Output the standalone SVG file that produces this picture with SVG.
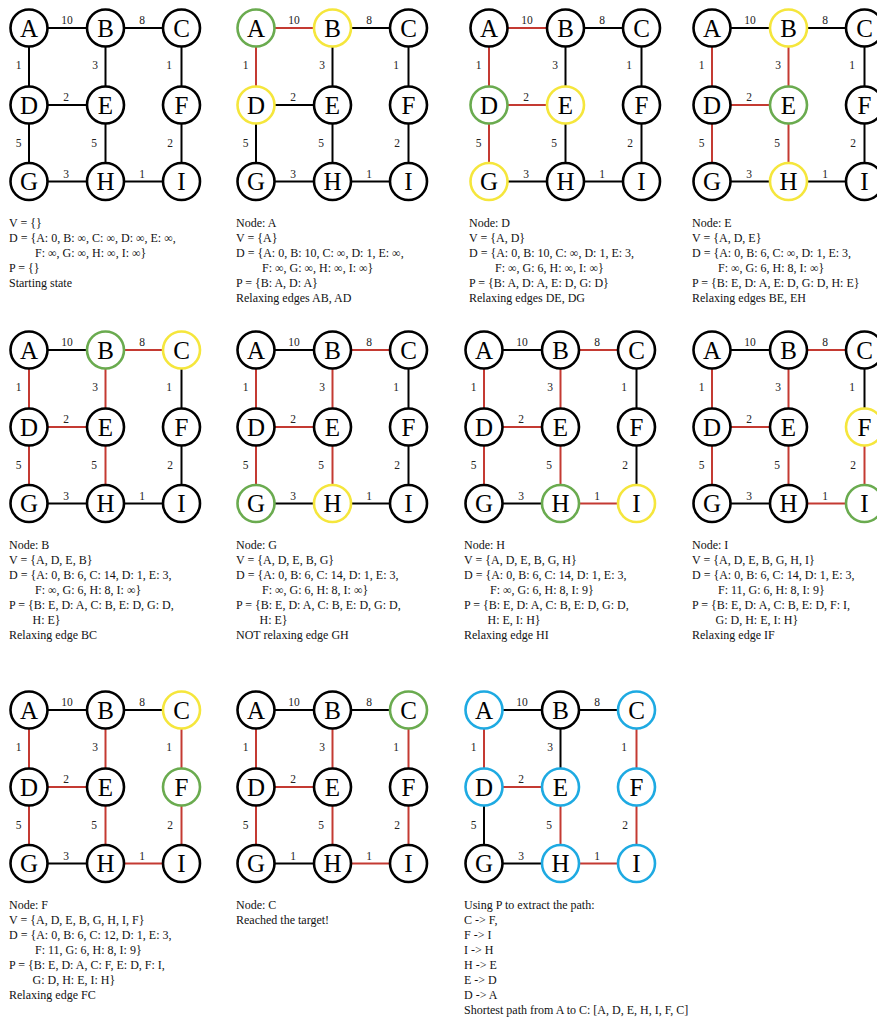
<svg xmlns="http://www.w3.org/2000/svg" xmlns:xlink="http://www.w3.org/1999/xlink" width="877" height="1018" viewBox="0 0 877 1018">
<style>
.bg{fill:#fff}
line{stroke:#000;stroke-width:2}
line.r{stroke:#c43a32}
.w{font-family:"Liberation Serif","Times New Roman",serif;font-size:11.5px;fill:#222;text-anchor:middle}
.node circle{fill:#fff;stroke:#000;stroke-width:2.6}
.node text{font-family:"Liberation Serif","Times New Roman",serif;font-size:25px;fill:#000;text-anchor:middle}
.node.g circle{stroke:#6aab4f}
.node.y circle{stroke:#f5e63c}
.node.b circle{stroke:#1eaae2}
.t{font-family:"Liberation Serif","Times New Roman",serif;font-size:12px;fill:#111}
</style>
<rect class="bg" x="0" y="0" width="877" height="1018"/>

<!-- Panel 1 -->
<g id="panel1" transform="translate(0,0)">
<g id="p1-edges">
<line x1="29" y1="28" x2="105.5" y2="28"/><line x1="105.5" y1="28" x2="181.5" y2="28"/>
<line x1="29" y1="28" x2="29" y2="105"/><line x1="105.5" y1="28" x2="105.5" y2="105"/><line x1="181.5" y1="28" x2="181.5" y2="105"/>
<line x1="29" y1="105" x2="105.5" y2="105"/>
<line x1="29" y1="105" x2="29" y2="181.5"/><line x1="105.5" y1="105" x2="105.5" y2="181.5"/><line x1="181.5" y1="105" x2="181.5" y2="181.5"/>
<line x1="29" y1="181.5" x2="105.5" y2="181.5"/><line x1="105.5" y1="181.5" x2="181.5" y2="181.5"/>
<text class="w" x="67" y="24">10</text><text class="w" x="142" y="24">8</text><text class="w" x="18.5" y="69">1</text><text class="w" x="95" y="69">3</text><text class="w" x="169" y="69">1</text><text class="w" x="66" y="101">2</text><text class="w" x="18.5" y="147">5</text><text class="w" x="94" y="147">5</text><text class="w" x="170" y="147">2</text><text class="w" x="66" y="177.5">3</text><text class="w" x="142" y="177.5">1</text>
</g>
<g id="p1-A" class="node"><circle cx="29" cy="28" r="18.5"/><text x="29" y="36.5">A</text></g>
<g id="p1-B" class="node"><circle cx="105.5" cy="28" r="18.5"/><text x="105.5" y="36.5">B</text></g>
<g id="p1-C" class="node"><circle cx="181.5" cy="28" r="18.5"/><text x="181.5" y="36.5">C</text></g>
<g id="p1-D" class="node"><circle cx="29" cy="105" r="18.5"/><text x="29" y="113.5">D</text></g>
<g id="p1-E" class="node"><circle cx="105.5" cy="105" r="18.5"/><text x="105.5" y="113.5">E</text></g>
<g id="p1-F" class="node"><circle cx="181.5" cy="105" r="18.5"/><text x="181.5" y="113.5">F</text></g>
<g id="p1-G" class="node"><circle cx="29" cy="181.5" r="18.5"/><text x="29" y="190">G</text></g>
<g id="p1-H" class="node"><circle cx="105.5" cy="181.5" r="18.5"/><text x="105.5" y="190">H</text></g>
<g id="p1-I" class="node"><circle cx="181.5" cy="181.5" r="18.5"/><text x="181.5" y="190">I</text></g>
<text class="t"><tspan x="9" y="227">V = {}</tspan><tspan x="9" y="242">D = {A: 0, B: ∞, C: ∞, D: ∞, E: ∞,</tspan><tspan x="35" y="257">F: ∞, G: ∞, H: ∞, I: ∞}</tspan><tspan x="9" y="272">P = {}</tspan><tspan x="9" y="287">Starting state</tspan></text>
</g>

<!-- Panel 2 -->
<g id="panel2" transform="translate(227,0)">
<g id="p2-edges">
<line class="r" x1="29" y1="28" x2="105.5" y2="28"/><line x1="105.5" y1="28" x2="181.5" y2="28"/>
<line class="r" x1="29" y1="28" x2="29" y2="105"/><line x1="105.5" y1="28" x2="105.5" y2="105"/><line x1="181.5" y1="28" x2="181.5" y2="105"/>
<line x1="29" y1="105" x2="105.5" y2="105"/>
<line x1="29" y1="105" x2="29" y2="181.5"/><line x1="105.5" y1="105" x2="105.5" y2="181.5"/><line x1="181.5" y1="105" x2="181.5" y2="181.5"/>
<line x1="29" y1="181.5" x2="105.5" y2="181.5"/><line x1="105.5" y1="181.5" x2="181.5" y2="181.5"/>
<text class="w" x="67" y="24">10</text><text class="w" x="142" y="24">8</text><text class="w" x="18.5" y="69">1</text><text class="w" x="95" y="69">3</text><text class="w" x="169" y="69">1</text><text class="w" x="66" y="101">2</text><text class="w" x="18.5" y="147">5</text><text class="w" x="94" y="147">5</text><text class="w" x="170" y="147">2</text><text class="w" x="66" y="177.5">3</text><text class="w" x="142" y="177.5">1</text>
</g>
<g id="p2-A" class="node g"><circle cx="29" cy="28" r="18.5"/><text x="29" y="36.5">A</text></g>
<g id="p2-B" class="node y"><circle cx="105.5" cy="28" r="18.5"/><text x="105.5" y="36.5">B</text></g>
<g id="p2-C" class="node"><circle cx="181.5" cy="28" r="18.5"/><text x="181.5" y="36.5">C</text></g>
<g id="p2-D" class="node y"><circle cx="29" cy="105" r="18.5"/><text x="29" y="113.5">D</text></g>
<g id="p2-E" class="node"><circle cx="105.5" cy="105" r="18.5"/><text x="105.5" y="113.5">E</text></g>
<g id="p2-F" class="node"><circle cx="181.5" cy="105" r="18.5"/><text x="181.5" y="113.5">F</text></g>
<g id="p2-G" class="node"><circle cx="29" cy="181.5" r="18.5"/><text x="29" y="190">G</text></g>
<g id="p2-H" class="node"><circle cx="105.5" cy="181.5" r="18.5"/><text x="105.5" y="190">H</text></g>
<g id="p2-I" class="node"><circle cx="181.5" cy="181.5" r="18.5"/><text x="181.5" y="190">I</text></g>
<text class="t"><tspan x="9" y="227">Node: A</tspan><tspan x="9" y="242">V = {A}</tspan><tspan x="9" y="257">D = {A: 0, B: 10, C: ∞, D: 1, E: ∞,</tspan><tspan x="35" y="272">F: ∞, G: ∞, H: ∞, I: ∞}</tspan><tspan x="9" y="287">P = {B: A, D: A}</tspan><tspan x="9" y="302">Relaxing edges AB, AD</tspan></text>
</g>

<!-- Panel 3 -->
<g id="panel3" transform="translate(460,0)">
<g id="p3-edges">
<line class="r" x1="29" y1="28" x2="105.5" y2="28"/><line x1="105.5" y1="28" x2="181.5" y2="28"/>
<line class="r" x1="29" y1="28" x2="29" y2="105"/><line x1="105.5" y1="28" x2="105.5" y2="105"/><line x1="181.5" y1="28" x2="181.5" y2="105"/>
<line class="r" x1="29" y1="105" x2="105.5" y2="105"/>
<line class="r" x1="29" y1="105" x2="29" y2="181.5"/><line x1="105.5" y1="105" x2="105.5" y2="181.5"/><line x1="181.5" y1="105" x2="181.5" y2="181.5"/>
<line x1="29" y1="181.5" x2="105.5" y2="181.5"/><line x1="105.5" y1="181.5" x2="181.5" y2="181.5"/>
<text class="w" x="67" y="24">10</text><text class="w" x="142" y="24">8</text><text class="w" x="18.5" y="69">1</text><text class="w" x="95" y="69">3</text><text class="w" x="169" y="69">1</text><text class="w" x="66" y="101">2</text><text class="w" x="18.5" y="147">5</text><text class="w" x="94" y="147">5</text><text class="w" x="170" y="147">2</text><text class="w" x="66" y="177.5">3</text><text class="w" x="142" y="177.5">1</text>
</g>
<g id="p3-A" class="node"><circle cx="29" cy="28" r="18.5"/><text x="29" y="36.5">A</text></g>
<g id="p3-B" class="node"><circle cx="105.5" cy="28" r="18.5"/><text x="105.5" y="36.5">B</text></g>
<g id="p3-C" class="node"><circle cx="181.5" cy="28" r="18.5"/><text x="181.5" y="36.5">C</text></g>
<g id="p3-D" class="node g"><circle cx="29" cy="105" r="18.5"/><text x="29" y="113.5">D</text></g>
<g id="p3-E" class="node y"><circle cx="105.5" cy="105" r="18.5"/><text x="105.5" y="113.5">E</text></g>
<g id="p3-F" class="node"><circle cx="181.5" cy="105" r="18.5"/><text x="181.5" y="113.5">F</text></g>
<g id="p3-G" class="node y"><circle cx="29" cy="181.5" r="18.5"/><text x="29" y="190">G</text></g>
<g id="p3-H" class="node"><circle cx="105.5" cy="181.5" r="18.5"/><text x="105.5" y="190">H</text></g>
<g id="p3-I" class="node"><circle cx="181.5" cy="181.5" r="18.5"/><text x="181.5" y="190">I</text></g>
<text class="t"><tspan x="9" y="227">Node: D</tspan><tspan x="9" y="242">V = {A, D}</tspan><tspan x="9" y="257">D = {A: 0, B: 10, C: ∞, D: 1, E: 3,</tspan><tspan x="35" y="272">F: ∞, G: 6, H: ∞, I: ∞}</tspan><tspan x="9" y="287">P = {B: A, D: A, E: D, G: D}</tspan><tspan x="9" y="302">Relaxing edges DE, DG</tspan></text>
</g>

<!-- Panel 4 -->
<g id="panel4" transform="translate(683,0)">
<g id="p4-edges">
<line x1="29" y1="28" x2="105.5" y2="28"/><line x1="105.5" y1="28" x2="181.5" y2="28"/>
<line class="r" x1="29" y1="28" x2="29" y2="105"/><line class="r" x1="105.5" y1="28" x2="105.5" y2="105"/><line x1="181.5" y1="28" x2="181.5" y2="105"/>
<line class="r" x1="29" y1="105" x2="105.5" y2="105"/>
<line class="r" x1="29" y1="105" x2="29" y2="181.5"/><line class="r" x1="105.5" y1="105" x2="105.5" y2="181.5"/><line x1="181.5" y1="105" x2="181.5" y2="181.5"/>
<line x1="29" y1="181.5" x2="105.5" y2="181.5"/><line x1="105.5" y1="181.5" x2="181.5" y2="181.5"/>
<text class="w" x="67" y="24">10</text><text class="w" x="142" y="24">8</text><text class="w" x="18.5" y="69">1</text><text class="w" x="95" y="69">3</text><text class="w" x="169" y="69">1</text><text class="w" x="66" y="101">2</text><text class="w" x="18.5" y="147">5</text><text class="w" x="94" y="147">5</text><text class="w" x="170" y="147">2</text><text class="w" x="66" y="177.5">3</text><text class="w" x="142" y="177.5">1</text>
</g>
<g id="p4-A" class="node"><circle cx="29" cy="28" r="18.5"/><text x="29" y="36.5">A</text></g>
<g id="p4-B" class="node y"><circle cx="105.5" cy="28" r="18.5"/><text x="105.5" y="36.5">B</text></g>
<g id="p4-C" class="node"><circle cx="181.5" cy="28" r="18.5"/><text x="181.5" y="36.5">C</text></g>
<g id="p4-D" class="node"><circle cx="29" cy="105" r="18.5"/><text x="29" y="113.5">D</text></g>
<g id="p4-E" class="node g"><circle cx="105.5" cy="105" r="18.5"/><text x="105.5" y="113.5">E</text></g>
<g id="p4-F" class="node"><circle cx="181.5" cy="105" r="18.5"/><text x="181.5" y="113.5">F</text></g>
<g id="p4-G" class="node"><circle cx="29" cy="181.5" r="18.5"/><text x="29" y="190">G</text></g>
<g id="p4-H" class="node y"><circle cx="105.5" cy="181.5" r="18.5"/><text x="105.5" y="190">H</text></g>
<g id="p4-I" class="node"><circle cx="181.5" cy="181.5" r="18.5"/><text x="181.5" y="190">I</text></g>
<text class="t"><tspan x="9" y="227">Node: E</tspan><tspan x="9" y="242">V = {A, D, E}</tspan><tspan x="9" y="257">D = {A: 0, B: 6, C: ∞, D: 1, E: 3,</tspan><tspan x="35" y="272">F: ∞, G: 6, H: 8, I: ∞}</tspan><tspan x="9" y="287">P = {B: E, D: A, E: D, G: D, H: E}</tspan><tspan x="9" y="302">Relaxing edges BE, EH</tspan></text>
</g>

<!-- Panel 5 -->
<g id="panel5" transform="translate(0,322)">
<g id="p5-edges">
<line x1="29" y1="28" x2="105.5" y2="28"/><line class="r" x1="105.5" y1="28" x2="181.5" y2="28"/>
<line class="r" x1="29" y1="28" x2="29" y2="105"/><line class="r" x1="105.5" y1="28" x2="105.5" y2="105"/><line x1="181.5" y1="28" x2="181.5" y2="105"/>
<line class="r" x1="29" y1="105" x2="105.5" y2="105"/>
<line class="r" x1="29" y1="105" x2="29" y2="181.5"/><line class="r" x1="105.5" y1="105" x2="105.5" y2="181.5"/><line x1="181.5" y1="105" x2="181.5" y2="181.5"/>
<line x1="29" y1="181.5" x2="105.5" y2="181.5"/><line x1="105.5" y1="181.5" x2="181.5" y2="181.5"/>
<text class="w" x="67" y="24">10</text><text class="w" x="142" y="24">8</text><text class="w" x="18.5" y="69">1</text><text class="w" x="95" y="69">3</text><text class="w" x="169" y="69">1</text><text class="w" x="66" y="101">2</text><text class="w" x="18.5" y="147">5</text><text class="w" x="94" y="147">5</text><text class="w" x="170" y="147">2</text><text class="w" x="66" y="177.5">3</text><text class="w" x="142" y="177.5">1</text>
</g>
<g id="p5-A" class="node"><circle cx="29" cy="28" r="18.5"/><text x="29" y="36.5">A</text></g>
<g id="p5-B" class="node g"><circle cx="105.5" cy="28" r="18.5"/><text x="105.5" y="36.5">B</text></g>
<g id="p5-C" class="node y"><circle cx="181.5" cy="28" r="18.5"/><text x="181.5" y="36.5">C</text></g>
<g id="p5-D" class="node"><circle cx="29" cy="105" r="18.5"/><text x="29" y="113.5">D</text></g>
<g id="p5-E" class="node"><circle cx="105.5" cy="105" r="18.5"/><text x="105.5" y="113.5">E</text></g>
<g id="p5-F" class="node"><circle cx="181.5" cy="105" r="18.5"/><text x="181.5" y="113.5">F</text></g>
<g id="p5-G" class="node"><circle cx="29" cy="181.5" r="18.5"/><text x="29" y="190">G</text></g>
<g id="p5-H" class="node"><circle cx="105.5" cy="181.5" r="18.5"/><text x="105.5" y="190">H</text></g>
<g id="p5-I" class="node"><circle cx="181.5" cy="181.5" r="18.5"/><text x="181.5" y="190">I</text></g>
<text class="t"><tspan x="9" y="227">Node: B</tspan><tspan x="9" y="242">V = {A, D, E, B}</tspan><tspan x="9" y="257">D = {A: 0, B: 6, C: 14, D: 1, E: 3,</tspan><tspan x="35" y="272">F: ∞, G: 6, H: 8, I: ∞}</tspan><tspan x="9" y="287">P = {B: E, D: A, C: B, E: D, G: D,</tspan><tspan x="32.5" y="302">H: E}</tspan><tspan x="9" y="317">Relaxing edge BC</tspan></text>
</g>

<!-- Panel 6 -->
<g id="panel6" transform="translate(227,322)">
<g id="p6-edges">
<line x1="29" y1="28" x2="105.5" y2="28"/><line class="r" x1="105.5" y1="28" x2="181.5" y2="28"/>
<line class="r" x1="29" y1="28" x2="29" y2="105"/><line class="r" x1="105.5" y1="28" x2="105.5" y2="105"/><line x1="181.5" y1="28" x2="181.5" y2="105"/>
<line class="r" x1="29" y1="105" x2="105.5" y2="105"/>
<line class="r" x1="29" y1="105" x2="29" y2="181.5"/><line class="r" x1="105.5" y1="105" x2="105.5" y2="181.5"/><line x1="181.5" y1="105" x2="181.5" y2="181.5"/>
<line x1="29" y1="181.5" x2="105.5" y2="181.5"/><line x1="105.5" y1="181.5" x2="181.5" y2="181.5"/>
<text class="w" x="67" y="24">10</text><text class="w" x="142" y="24">8</text><text class="w" x="18.5" y="69">1</text><text class="w" x="95" y="69">3</text><text class="w" x="169" y="69">1</text><text class="w" x="66" y="101">2</text><text class="w" x="18.5" y="147">5</text><text class="w" x="94" y="147">5</text><text class="w" x="170" y="147">2</text><text class="w" x="66" y="177.5">3</text><text class="w" x="142" y="177.5">1</text>
</g>
<g id="p6-A" class="node"><circle cx="29" cy="28" r="18.5"/><text x="29" y="36.5">A</text></g>
<g id="p6-B" class="node"><circle cx="105.5" cy="28" r="18.5"/><text x="105.5" y="36.5">B</text></g>
<g id="p6-C" class="node"><circle cx="181.5" cy="28" r="18.5"/><text x="181.5" y="36.5">C</text></g>
<g id="p6-D" class="node"><circle cx="29" cy="105" r="18.5"/><text x="29" y="113.5">D</text></g>
<g id="p6-E" class="node"><circle cx="105.5" cy="105" r="18.5"/><text x="105.5" y="113.5">E</text></g>
<g id="p6-F" class="node"><circle cx="181.5" cy="105" r="18.5"/><text x="181.5" y="113.5">F</text></g>
<g id="p6-G" class="node g"><circle cx="29" cy="181.5" r="18.5"/><text x="29" y="190">G</text></g>
<g id="p6-H" class="node y"><circle cx="105.5" cy="181.5" r="18.5"/><text x="105.5" y="190">H</text></g>
<g id="p6-I" class="node"><circle cx="181.5" cy="181.5" r="18.5"/><text x="181.5" y="190">I</text></g>
<text class="t"><tspan x="9" y="227">Node: G</tspan><tspan x="9" y="242">V = {A, D, E, B, G}</tspan><tspan x="9" y="257">D = {A: 0, B: 6, C: 14, D: 1, E: 3,</tspan><tspan x="35" y="272">F: ∞, G: 6, H: 8, I: ∞}</tspan><tspan x="9" y="287">P = {B: E, D: A, C: B, E: D, G: D,</tspan><tspan x="32.5" y="302">H: E}</tspan><tspan x="9" y="317">NOT relaxing edge GH</tspan></text>
</g>

<!-- Panel 7 -->
<g id="panel7" transform="translate(455,322)">
<g id="p7-edges">
<line x1="29" y1="28" x2="105.5" y2="28"/><line class="r" x1="105.5" y1="28" x2="181.5" y2="28"/>
<line class="r" x1="29" y1="28" x2="29" y2="105"/><line class="r" x1="105.5" y1="28" x2="105.5" y2="105"/><line x1="181.5" y1="28" x2="181.5" y2="105"/>
<line class="r" x1="29" y1="105" x2="105.5" y2="105"/>
<line class="r" x1="29" y1="105" x2="29" y2="181.5"/><line class="r" x1="105.5" y1="105" x2="105.5" y2="181.5"/><line x1="181.5" y1="105" x2="181.5" y2="181.5"/>
<line x1="29" y1="181.5" x2="105.5" y2="181.5"/><line class="r" x1="105.5" y1="181.5" x2="181.5" y2="181.5"/>
<text class="w" x="67" y="24">10</text><text class="w" x="142" y="24">8</text><text class="w" x="18.5" y="69">1</text><text class="w" x="95" y="69">3</text><text class="w" x="169" y="69">1</text><text class="w" x="66" y="101">2</text><text class="w" x="18.5" y="147">5</text><text class="w" x="94" y="147">5</text><text class="w" x="170" y="147">2</text><text class="w" x="66" y="177.5">3</text><text class="w" x="142" y="177.5">1</text>
</g>
<g id="p7-A" class="node"><circle cx="29" cy="28" r="18.5"/><text x="29" y="36.5">A</text></g>
<g id="p7-B" class="node"><circle cx="105.5" cy="28" r="18.5"/><text x="105.5" y="36.5">B</text></g>
<g id="p7-C" class="node"><circle cx="181.5" cy="28" r="18.5"/><text x="181.5" y="36.5">C</text></g>
<g id="p7-D" class="node"><circle cx="29" cy="105" r="18.5"/><text x="29" y="113.5">D</text></g>
<g id="p7-E" class="node"><circle cx="105.5" cy="105" r="18.5"/><text x="105.5" y="113.5">E</text></g>
<g id="p7-F" class="node"><circle cx="181.5" cy="105" r="18.5"/><text x="181.5" y="113.5">F</text></g>
<g id="p7-G" class="node"><circle cx="29" cy="181.5" r="18.5"/><text x="29" y="190">G</text></g>
<g id="p7-H" class="node g"><circle cx="105.5" cy="181.5" r="18.5"/><text x="105.5" y="190">H</text></g>
<g id="p7-I" class="node y"><circle cx="181.5" cy="181.5" r="18.5"/><text x="181.5" y="190">I</text></g>
<text class="t"><tspan x="9" y="227">Node: H</tspan><tspan x="9" y="242">V = {A, D, E, B, G, H}</tspan><tspan x="9" y="257">D = {A: 0, B: 6, C: 14, D: 1, E: 3,</tspan><tspan x="35" y="272">F: ∞, G: 6, H: 8, I: 9}</tspan><tspan x="9" y="287">P = {B: E, D: A, C: B, E: D, G: D,</tspan><tspan x="32.5" y="302">H: E, I: H}</tspan><tspan x="9" y="317">Relaxing edge HI</tspan></text>
</g>

<!-- Panel 8 -->
<g id="panel8" transform="translate(683,322)">
<g id="p8-edges">
<line x1="29" y1="28" x2="105.5" y2="28"/><line class="r" x1="105.5" y1="28" x2="181.5" y2="28"/>
<line class="r" x1="29" y1="28" x2="29" y2="105"/><line class="r" x1="105.5" y1="28" x2="105.5" y2="105"/><line x1="181.5" y1="28" x2="181.5" y2="105"/>
<line class="r" x1="29" y1="105" x2="105.5" y2="105"/>
<line class="r" x1="29" y1="105" x2="29" y2="181.5"/><line class="r" x1="105.5" y1="105" x2="105.5" y2="181.5"/><line class="r" x1="181.5" y1="105" x2="181.5" y2="181.5"/>
<line x1="29" y1="181.5" x2="105.5" y2="181.5"/><line class="r" x1="105.5" y1="181.5" x2="181.5" y2="181.5"/>
<text class="w" x="67" y="24">10</text><text class="w" x="142" y="24">8</text><text class="w" x="18.5" y="69">1</text><text class="w" x="95" y="69">3</text><text class="w" x="169" y="69">1</text><text class="w" x="66" y="101">2</text><text class="w" x="18.5" y="147">5</text><text class="w" x="94" y="147">5</text><text class="w" x="170" y="147">2</text><text class="w" x="66" y="177.5">3</text><text class="w" x="142" y="177.5">1</text>
</g>
<g id="p8-A" class="node"><circle cx="29" cy="28" r="18.5"/><text x="29" y="36.5">A</text></g>
<g id="p8-B" class="node"><circle cx="105.5" cy="28" r="18.5"/><text x="105.5" y="36.5">B</text></g>
<g id="p8-C" class="node"><circle cx="181.5" cy="28" r="18.5"/><text x="181.5" y="36.5">C</text></g>
<g id="p8-D" class="node"><circle cx="29" cy="105" r="18.5"/><text x="29" y="113.5">D</text></g>
<g id="p8-E" class="node"><circle cx="105.5" cy="105" r="18.5"/><text x="105.5" y="113.5">E</text></g>
<g id="p8-F" class="node y"><circle cx="181.5" cy="105" r="18.5"/><text x="181.5" y="113.5">F</text></g>
<g id="p8-G" class="node"><circle cx="29" cy="181.5" r="18.5"/><text x="29" y="190">G</text></g>
<g id="p8-H" class="node"><circle cx="105.5" cy="181.5" r="18.5"/><text x="105.5" y="190">H</text></g>
<g id="p8-I" class="node g"><circle cx="181.5" cy="181.5" r="18.5"/><text x="181.5" y="190">I</text></g>
<text class="t"><tspan x="9" y="227">Node: I</tspan><tspan x="9" y="242">V = {A, D, E, B, G, H, I}</tspan><tspan x="9" y="257">D = {A: 0, B: 6, C: 14, D: 1, E: 3,</tspan><tspan x="35" y="272">F: 11, G: 6, H: 8, I: 9}</tspan><tspan x="9" y="287">P = {B: E, D: A, C: B, E: D, F: I,</tspan><tspan x="32.5" y="302">G: D, H: E, I: H}</tspan><tspan x="9" y="317">Relaxing edge IF</tspan></text>
</g>

<!-- Panel 9 -->
<g id="panel9" transform="translate(0,682)">
<g id="p9-edges">
<line x1="29" y1="28" x2="105.5" y2="28"/><line x1="105.5" y1="28" x2="181.5" y2="28"/>
<line class="r" x1="29" y1="28" x2="29" y2="105"/><line class="r" x1="105.5" y1="28" x2="105.5" y2="105"/><line class="r" x1="181.5" y1="28" x2="181.5" y2="105"/>
<line class="r" x1="29" y1="105" x2="105.5" y2="105"/>
<line class="r" x1="29" y1="105" x2="29" y2="181.5"/><line class="r" x1="105.5" y1="105" x2="105.5" y2="181.5"/><line class="r" x1="181.5" y1="105" x2="181.5" y2="181.5"/>
<line x1="29" y1="181.5" x2="105.5" y2="181.5"/><line class="r" x1="105.5" y1="181.5" x2="181.5" y2="181.5"/>
<text class="w" x="67" y="24">10</text><text class="w" x="142" y="24">8</text><text class="w" x="18.5" y="69">1</text><text class="w" x="95" y="69">3</text><text class="w" x="169" y="69">1</text><text class="w" x="66" y="101">2</text><text class="w" x="18.5" y="147">5</text><text class="w" x="94" y="147">5</text><text class="w" x="170" y="147">2</text><text class="w" x="66" y="177.5">3</text><text class="w" x="142" y="177.5">1</text>
</g>
<g id="p9-A" class="node"><circle cx="29" cy="28" r="18.5"/><text x="29" y="36.5">A</text></g>
<g id="p9-B" class="node"><circle cx="105.5" cy="28" r="18.5"/><text x="105.5" y="36.5">B</text></g>
<g id="p9-C" class="node y"><circle cx="181.5" cy="28" r="18.5"/><text x="181.5" y="36.5">C</text></g>
<g id="p9-D" class="node"><circle cx="29" cy="105" r="18.5"/><text x="29" y="113.5">D</text></g>
<g id="p9-E" class="node"><circle cx="105.5" cy="105" r="18.5"/><text x="105.5" y="113.5">E</text></g>
<g id="p9-F" class="node g"><circle cx="181.5" cy="105" r="18.5"/><text x="181.5" y="113.5">F</text></g>
<g id="p9-G" class="node"><circle cx="29" cy="181.5" r="18.5"/><text x="29" y="190">G</text></g>
<g id="p9-H" class="node"><circle cx="105.5" cy="181.5" r="18.5"/><text x="105.5" y="190">H</text></g>
<g id="p9-I" class="node"><circle cx="181.5" cy="181.5" r="18.5"/><text x="181.5" y="190">I</text></g>
<text class="t"><tspan x="9" y="227">Node: F</tspan><tspan x="9" y="242">V = {A, D, E, B, G, H, I, F}</tspan><tspan x="9" y="257">D = {A: 0, B: 6, C: 12, D: 1, E: 3,</tspan><tspan x="35" y="272">F: 11, G: 6, H: 8, I: 9}</tspan><tspan x="9" y="287">P = {B: E, D: A, C: F, E: D, F: I,</tspan><tspan x="32.5" y="302">G: D, H: E, I: H}</tspan><tspan x="9" y="317">Relaxing edge FC</tspan></text>
</g>

<!-- Panel 10 -->
<g id="panel10" transform="translate(227,682)">
<g id="p10-edges">
<line x1="29" y1="28" x2="105.5" y2="28"/><line x1="105.5" y1="28" x2="181.5" y2="28"/>
<line class="r" x1="29" y1="28" x2="29" y2="105"/><line class="r" x1="105.5" y1="28" x2="105.5" y2="105"/><line class="r" x1="181.5" y1="28" x2="181.5" y2="105"/>
<line class="r" x1="29" y1="105" x2="105.5" y2="105"/>
<line class="r" x1="29" y1="105" x2="29" y2="181.5"/><line class="r" x1="105.5" y1="105" x2="105.5" y2="181.5"/><line class="r" x1="181.5" y1="105" x2="181.5" y2="181.5"/>
<line x1="29" y1="181.5" x2="105.5" y2="181.5"/><line class="r" x1="105.5" y1="181.5" x2="181.5" y2="181.5"/>
<text class="w" x="67" y="24">10</text><text class="w" x="142" y="24">8</text><text class="w" x="18.5" y="69">1</text><text class="w" x="95" y="69">3</text><text class="w" x="169" y="69">1</text><text class="w" x="66" y="101">2</text><text class="w" x="18.5" y="147">5</text><text class="w" x="94" y="147">5</text><text class="w" x="170" y="147">2</text><text class="w" x="66" y="177.5">1</text><text class="w" x="142" y="177.5">1</text>
</g>
<g id="p10-A" class="node"><circle cx="29" cy="28" r="18.5"/><text x="29" y="36.5">A</text></g>
<g id="p10-B" class="node"><circle cx="105.5" cy="28" r="18.5"/><text x="105.5" y="36.5">B</text></g>
<g id="p10-C" class="node g"><circle cx="181.5" cy="28" r="18.5"/><text x="181.5" y="36.5">C</text></g>
<g id="p10-D" class="node"><circle cx="29" cy="105" r="18.5"/><text x="29" y="113.5">D</text></g>
<g id="p10-E" class="node"><circle cx="105.5" cy="105" r="18.5"/><text x="105.5" y="113.5">E</text></g>
<g id="p10-F" class="node"><circle cx="181.5" cy="105" r="18.5"/><text x="181.5" y="113.5">F</text></g>
<g id="p10-G" class="node"><circle cx="29" cy="181.5" r="18.5"/><text x="29" y="190">G</text></g>
<g id="p10-H" class="node"><circle cx="105.5" cy="181.5" r="18.5"/><text x="105.5" y="190">H</text></g>
<g id="p10-I" class="node"><circle cx="181.5" cy="181.5" r="18.5"/><text x="181.5" y="190">I</text></g>
<text class="t"><tspan x="9" y="227">Node: C</tspan><tspan x="9" y="242">Reached the target!</tspan></text>
</g>

<!-- Panel 11 -->
<g id="panel11" transform="translate(455,682)">
<g id="p11-edges">
<line x1="29" y1="28" x2="105.5" y2="28"/><line x1="105.5" y1="28" x2="181.5" y2="28"/>
<line class="r" x1="29" y1="28" x2="29" y2="105"/><line x1="105.5" y1="28" x2="105.5" y2="105"/><line class="r" x1="181.5" y1="28" x2="181.5" y2="105"/>
<line class="r" x1="29" y1="105" x2="105.5" y2="105"/>
<line x1="29" y1="105" x2="29" y2="181.5"/><line class="r" x1="105.5" y1="105" x2="105.5" y2="181.5"/><line class="r" x1="181.5" y1="105" x2="181.5" y2="181.5"/>
<line x1="29" y1="181.5" x2="105.5" y2="181.5"/><line class="r" x1="105.5" y1="181.5" x2="181.5" y2="181.5"/>
<text class="w" x="67" y="24">10</text><text class="w" x="142" y="24">8</text><text class="w" x="18.5" y="69">1</text><text class="w" x="95" y="69">3</text><text class="w" x="169" y="69">1</text><text class="w" x="66" y="101">2</text><text class="w" x="18.5" y="147">5</text><text class="w" x="94" y="147">5</text><text class="w" x="170" y="147">2</text><text class="w" x="66" y="177.5">3</text><text class="w" x="142" y="177.5">1</text>
</g>
<g id="p11-A" class="node b"><circle cx="29" cy="28" r="18.5"/><text x="29" y="36.5">A</text></g>
<g id="p11-B" class="node"><circle cx="105.5" cy="28" r="18.5"/><text x="105.5" y="36.5">B</text></g>
<g id="p11-C" class="node b"><circle cx="181.5" cy="28" r="18.5"/><text x="181.5" y="36.5">C</text></g>
<g id="p11-D" class="node b"><circle cx="29" cy="105" r="18.5"/><text x="29" y="113.5">D</text></g>
<g id="p11-E" class="node b"><circle cx="105.5" cy="105" r="18.5"/><text x="105.5" y="113.5">E</text></g>
<g id="p11-F" class="node b"><circle cx="181.5" cy="105" r="18.5"/><text x="181.5" y="113.5">F</text></g>
<g id="p11-G" class="node"><circle cx="29" cy="181.5" r="18.5"/><text x="29" y="190">G</text></g>
<g id="p11-H" class="node b"><circle cx="105.5" cy="181.5" r="18.5"/><text x="105.5" y="190">H</text></g>
<g id="p11-I" class="node b"><circle cx="181.5" cy="181.5" r="18.5"/><text x="181.5" y="190">I</text></g>
<text class="t"><tspan x="9" y="227">Using P to extract the path:</tspan><tspan x="9" y="242">C -&gt; F,</tspan><tspan x="9" y="257">F -&gt; I</tspan><tspan x="9" y="272">I -&gt; H</tspan><tspan x="9" y="287">H -&gt; E</tspan><tspan x="9" y="302">E -&gt; D</tspan><tspan x="9" y="317">D -&gt; A</tspan><tspan x="9" y="332">Shortest path from A to C: [A, D, E, H, I, F, C]</tspan></text>
</g>
</svg>
